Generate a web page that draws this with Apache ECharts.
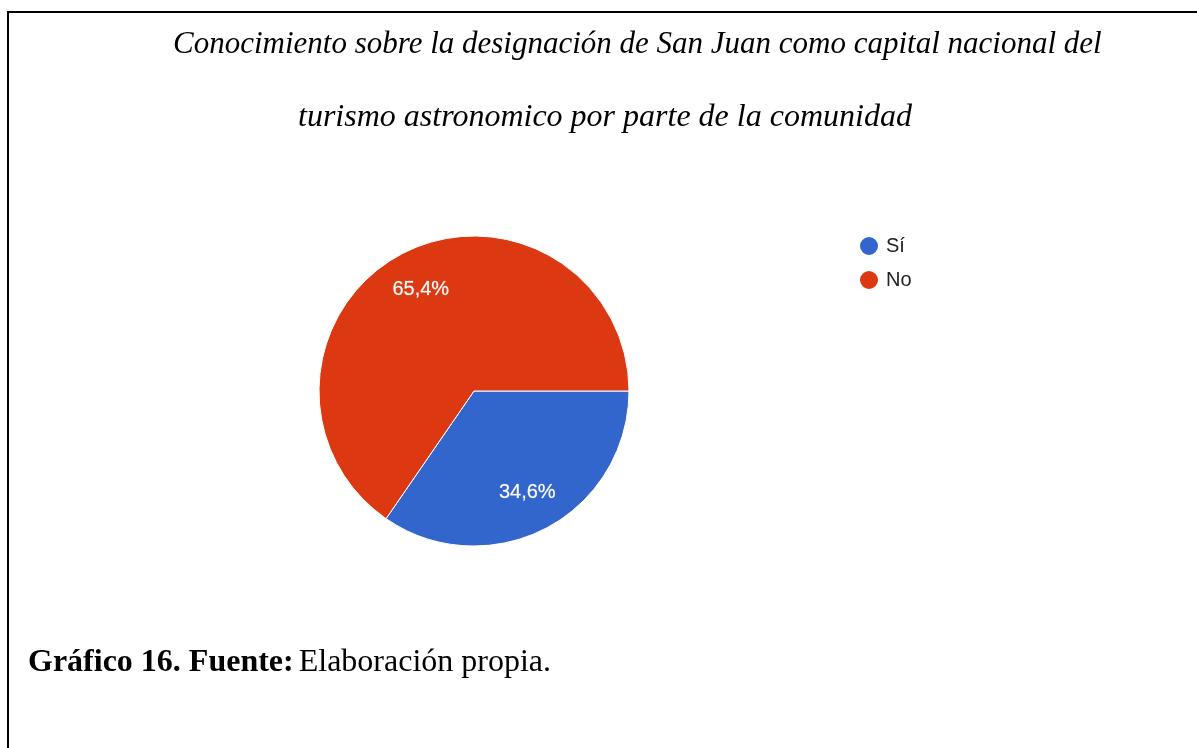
<!DOCTYPE html>
<html lang="es">
<head>
    <meta charset="UTF-8">
    <title>Gráfico 16</title>
    <script src="https://cdn.jsdelivr.net/npm/echarts@6/dist/echarts.min.js"></script>
    <style>
        *{
            margin: 0;
            padding: 0;
        }
        html,body{
            width: 100%;
            height: 100%;
            overflow: hidden;
            background: #fff;
        }
        .frame{
            position: absolute;
            left: 7px;
            top: 11px;
            right: 0;
            bottom: 0;
            border-left: 2px solid #000;
            border-top: 2px solid #000;
        }
        .container{
            position: absolute;
            left: 0;
            top: 0;
            width: 1197px;
            height: 748px;
        }
    </style>
</head>
<body>
<div class="frame"></div>
<div class="container"></div>
<script>
    const categories = ['Sí', 'No'];
    const values = [34.6, 65.4];
    const colors = ['#3366cc', '#dc3912'];

    window.onload = function () {
        let container = document.querySelector('.container')
        let mycharts = echarts.init(container)

        let pieData = categories.map((name, i) => ({
            name,
            value: values[i],
            itemStyle: {color: colors[i]}
        }))

        let options = {
            animation: false,
            title: [
                {
                    text: 'Conocimiento sobre la designación de San Juan como capital nacional del',
                    left: 168,
                    top: 24,
                    textStyle: {
                        fontFamily: 'Liberation Serif',
                        fontStyle: 'italic',
                        fontWeight: 'normal',
                        fontSize: 31,
                        color: '#000'
                    }
                },
                {
                    text: 'turismo astronomico por parte de la comunidad',
                    left: 293,
                    top: 97,
                    textStyle: {
                        fontFamily: 'Liberation Serif',
                        fontStyle: 'italic',
                        fontWeight: 'normal',
                        fontSize: 32,
                        color: '#000'
                    }
                },
                {
                    text: '{b|Gráfico 16. Fuente:} {n|Elaboración propia.}',
                    left: 23,
                    top: 642,
                    textStyle: {
                        rich: {
                            b: {fontFamily: 'Liberation Serif', fontWeight: 'bold', fontSize: 32, color: '#000'},
                            n: {fontFamily: 'Liberation Serif', fontWeight: 'normal', fontSize: 32, color: '#000'}
                        }
                    }
                }
            ],
            legend: {
                orient: 'vertical',
                left: 853,
                top: 230,
                icon: 'circle',
                itemWidth: 20,
                itemHeight: 20,
                itemGap: 12,
                data: categories,
                textStyle: {
                    fontFamily: 'Liberation Sans',
                    fontSize: 20,
                    color: '#222',
                    padding: [0, 0, 0, 2]
                }
            },
            series: [
                {
                    name: 'Conocimiento',
                    type: 'pie',
                    center: [474, 391],
                    radius: [0, 155],
                    startAngle: 0,
                    clockwise: true,
                    data: pieData,
                    itemStyle: {borderColor: '#fff', borderWidth: 1},
                    label: {show: false},
                    labelLine: {show: false}
                },
                {
                    // transparent ring that only carries the percentage labels
                    name: 'etiquetas',
                    type: 'pie',
                    silent: true,
                    center: [474, 391],
                    radius: [68, 155],
                    startAngle: 0,
                    clockwise: true,
                    data: categories.map((name, i) => ({name, value: values[i]})),
                    itemStyle: {color: 'transparent'},
                    label: {
                        show: true,
                        position: 'inside',
                        formatter: p => p.value.toFixed(1).replace('.', ',') + '%',
                        fontFamily: 'Liberation Sans',
                        fontSize: 20,
                        color: '#fff',
                        textBorderColor: 'rgba(255,255,255,0.35)',
                        textBorderWidth: 0.6
                    },
                    labelLine: {show: false}
                }
            ]
        };

        mycharts.setOption(options)
    }
</script>
</body>
</html>
